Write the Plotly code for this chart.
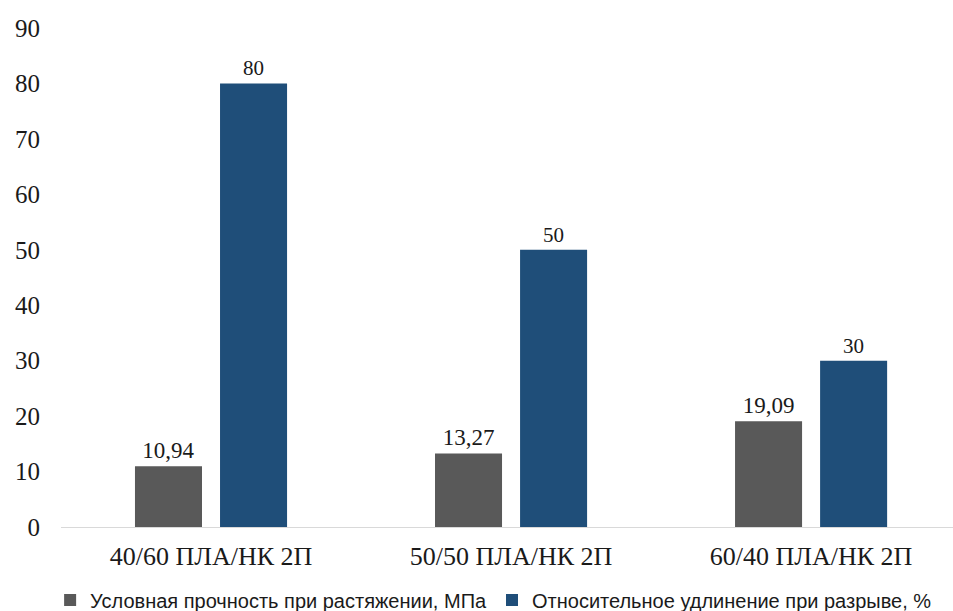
import plotly.graph_objects as go

categories = ["40/60 ПЛА/НК 2П", "50/50 ПЛА/НК 2П", "60/40 ПЛА/НК 2П"]
strength = [10.94, 13.27, 19.09]
elongation = [80, 50, 30]
series_names = ["Условная прочность при растяжении, МПа",
                "Относительное удлинение при разрыве, %"]
y_ticks = [0, 10, 20, 30, 40, 50, 60, 70, 80, 90]


def fmt(v):
    return ("%g" % v).replace(".", ",")


serif = "Times New Roman, Liberation Serif, serif"

fig = go.Figure()
fig.add_trace(go.Bar(
    x=categories, y=strength, name=series_names[0],
    marker=dict(color="#595959", line=dict(width=0)),
    text=[fmt(v) for v in strength], textposition="outside",
    textfont=dict(family=serif, size=23, color="#1a1a1a"),
    cliponaxis=False,
))
fig.add_trace(go.Bar(
    x=categories, y=elongation, name=series_names[1],
    marker=dict(color="#1F4E79", line=dict(width=0)),
    text=[fmt(v) for v in elongation], textposition="outside",
    textfont=dict(family=serif, size=21, color="#1a1a1a"),
    cliponaxis=False,
))

fig.update_layout(
    width=953, height=611,
    margin=dict(l=61, r=0, t=28, b=84),
    font=dict(family=serif, color="#1a1a1a"),
    paper_bgcolor="white", plot_bgcolor="white",
    barmode="group", bargap=0.433, bargroupgap=0.212,
    showlegend=True,
    legend=dict(orientation="h", x=0.485, xanchor="center",
                yref="container", y=11 / 611, yanchor="middle",
                font=dict(family="Liberation Sans", size=20, color="#1a1a1a"),
                itemwidth=30, tracegroupgap=0),
    xaxis=dict(range=[-0.5, 2.473], showgrid=False, showline=True,
               linecolor="#d9d9d9", linewidth=1, ticks="",
               ticklabelstandoff=6,
               tickfont=dict(family=serif, size=26, color="#1a1a1a")),
    yaxis=dict(range=[0, 90], tickvals=y_ticks, showgrid=False, zeroline=False,
               showline=False, ticks="", ticklabelstandoff=20,
               tickfont=dict(family=serif, size=25, color="#1a1a1a")),
)

fig.write_html("out.html")
